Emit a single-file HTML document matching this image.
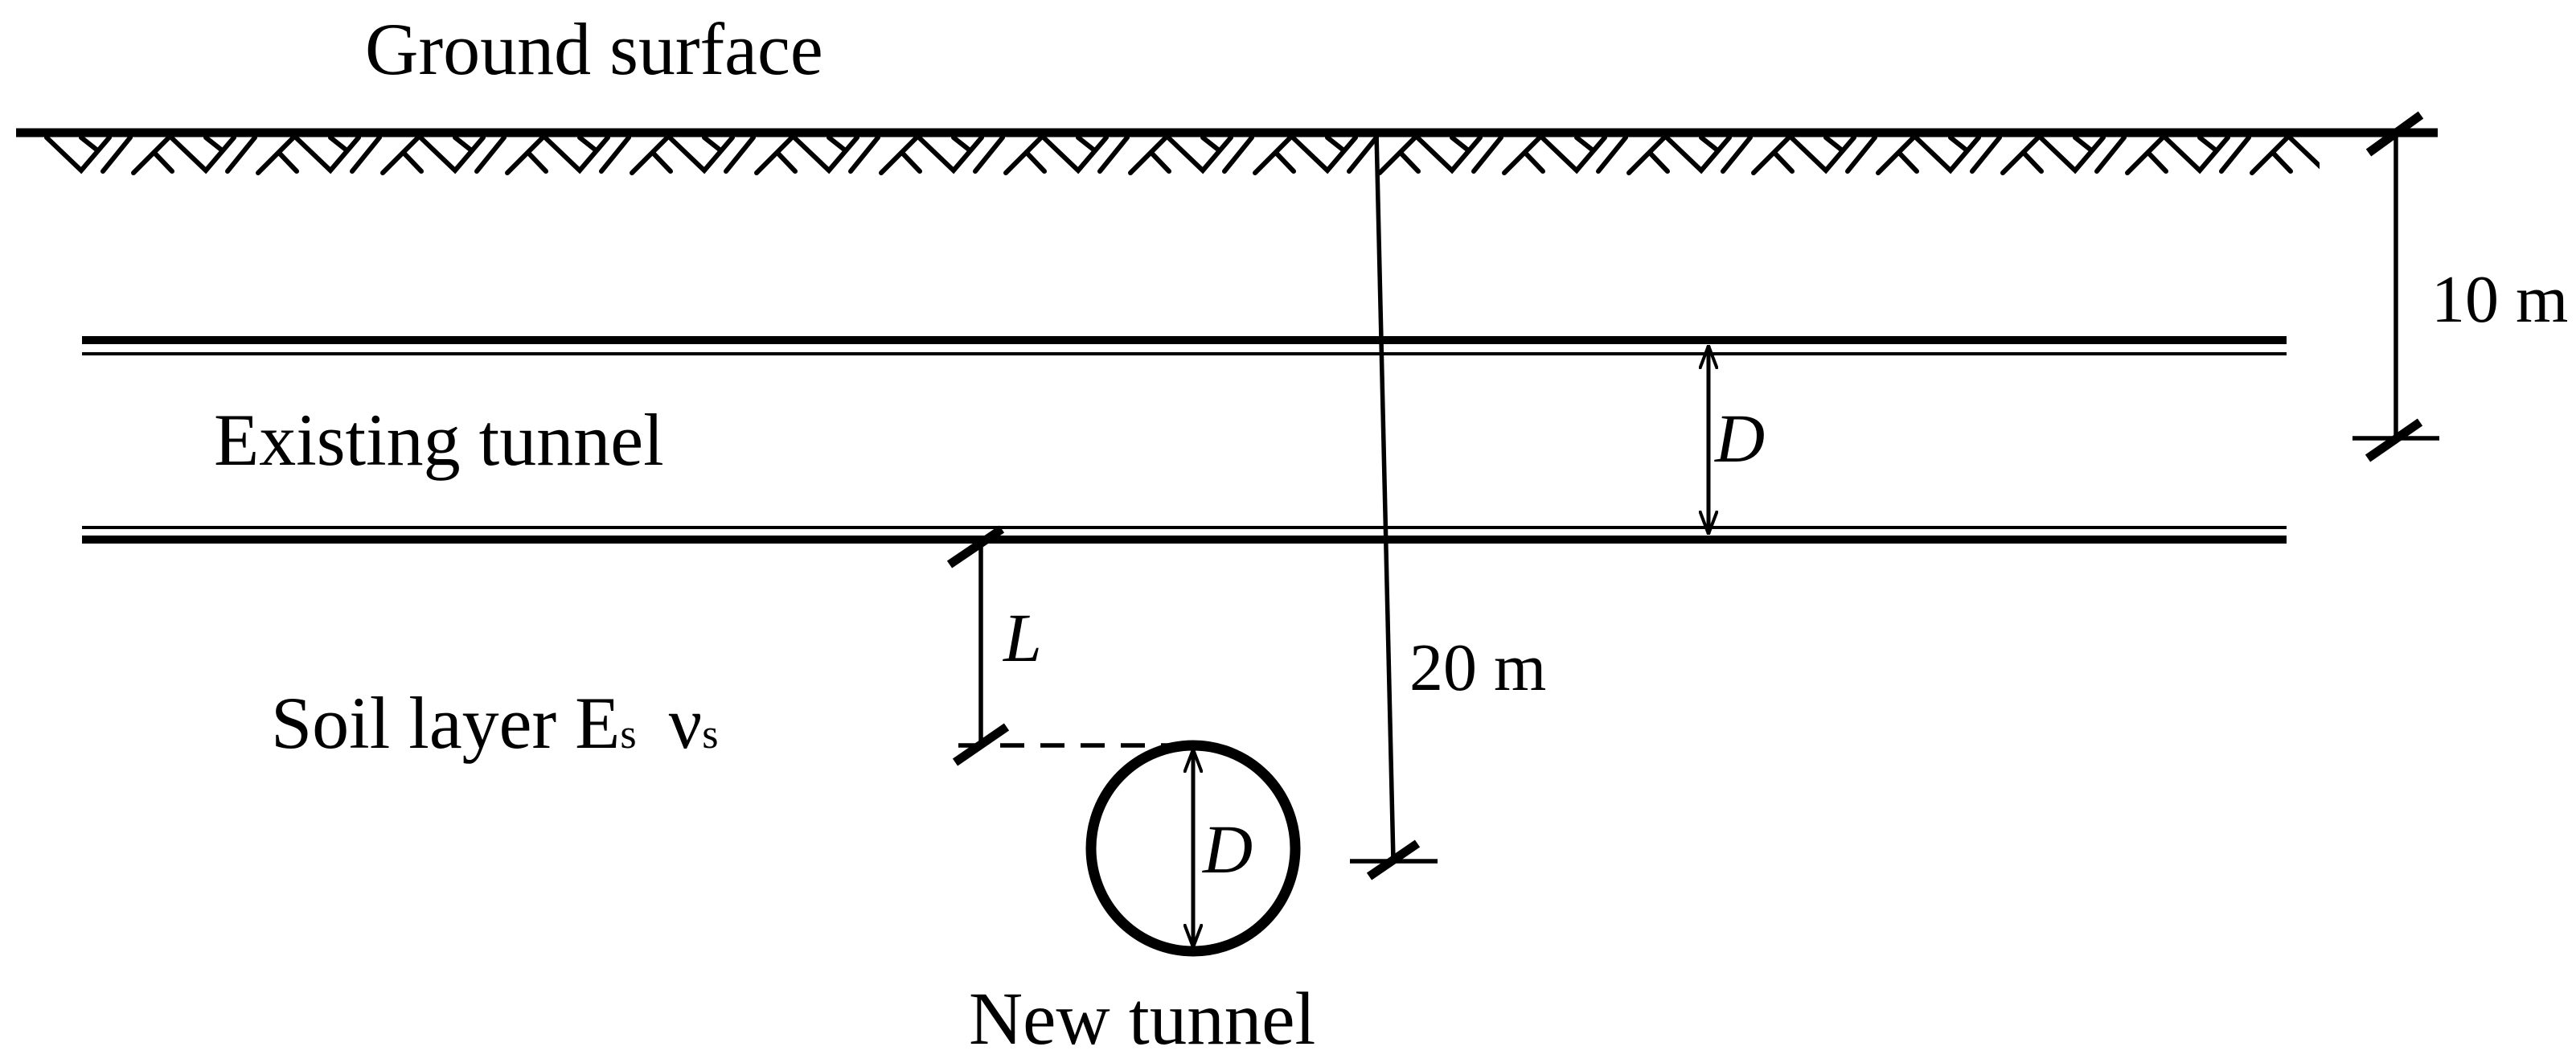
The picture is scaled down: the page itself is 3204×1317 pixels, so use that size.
<!DOCTYPE html>
<html><head><meta charset="utf-8"><style>
html,body{margin:0;padding:0;background:#fff;}
svg{display:block;}
text{font-family:"Liberation Serif",serif;fill:#000;}
</style></head><body>
<svg width="3204" height="1317" viewBox="0 0 3204 1317" xmlns="http://www.w3.org/2000/svg">
<defs>
<marker id="ah" viewBox="0 0 30 24" refX="29" refY="12" markerWidth="30" markerHeight="24" markerUnits="userSpaceOnUse" orient="auto-start-reverse">
<path d="M0,1 L29,12 L0,23" fill="none" stroke="#000" stroke-width="4"/>
</marker>
<g id="m" stroke="#000" stroke-width="6" fill="none" stroke-linecap="round">
<polyline points="0,171 43,212 78,171"/>
<line x1="43" y1="171" x2="62" y2="186"/>
<line x1="104" y1="171" x2="70" y2="213"/>
<line x1="151" y1="172" x2="108" y2="215"/>
<line x1="134" y1="190" x2="156" y2="213"/>
</g>
<clipPath id="hc"><rect x="0" y="160" width="2885" height="70"/></clipPath>
</defs>
<g clip-path="url(#hc)">
<use href="#m" x="58"/><use href="#m" x="213"/><use href="#m" x="368"/><use href="#m" x="523"/>
<use href="#m" x="678"/><use href="#m" x="833"/><use href="#m" x="988"/><use href="#m" x="1143"/>
<use href="#m" x="1298"/><use href="#m" x="1453"/><use href="#m" x="1608"/><use href="#m" x="1763"/>
<use href="#m" x="1918"/><use href="#m" x="2073"/><use href="#m" x="2228"/><use href="#m" x="2383"/>
<use href="#m" x="2538"/><use href="#m" x="2693"/><use href="#m" x="2848"/>
</g>
<!-- ground -->
<line x1="20" y1="165" x2="3032" y2="165" stroke="#000" stroke-width="11"/>
<text x="454" y="92" font-size="92">Ground surface</text>
<!-- existing tunnel -->
<line x1="102" y1="423" x2="2844" y2="423" stroke="#000" stroke-width="10"/>
<line x1="102" y1="440" x2="2844" y2="440" stroke="#000" stroke-width="4"/>
<line x1="102" y1="656" x2="2844" y2="656" stroke="#000" stroke-width="4"/>
<line x1="102" y1="671" x2="2844" y2="671" stroke="#000" stroke-width="10"/>
<text x="266" y="578" font-size="92">Existing tunnel</text>
<line x1="2125" y1="430" x2="2125" y2="664" stroke="#000" stroke-width="5" marker-start="url(#ah)" marker-end="url(#ah)"/>
<text x="2133" y="574" font-size="86" font-style="italic">D</text>
<!-- 10 m -->
<line x1="2980" y1="165" x2="2980" y2="545" stroke="#000" stroke-width="5.5"/>
<line x1="2946" y1="190" x2="3011" y2="143" stroke="#000" stroke-width="11"/>
<line x1="2926" y1="545" x2="3034" y2="545" stroke="#000" stroke-width="5.5"/>
<line x1="2945" y1="570" x2="3010" y2="525" stroke="#000" stroke-width="11"/>
<text x="3024" y="400" font-size="84">10 m</text>
<!-- 20 m -->
<line x1="1712" y1="165" x2="1733" y2="1071" stroke="#000" stroke-width="5.5"/>
<line x1="1679" y1="1071" x2="1788" y2="1071" stroke="#000" stroke-width="5.5"/>
<line x1="1703" y1="1090" x2="1763" y2="1049" stroke="#000" stroke-width="11"/>
<text x="1753" y="858" font-size="84">20 m</text>
<!-- L -->
<line x1="1220" y1="671" x2="1220" y2="927" stroke="#000" stroke-width="5.5"/>
<line x1="1181" y1="702" x2="1246" y2="658" stroke="#000" stroke-width="11"/>
<line x1="1188" y1="948" x2="1252" y2="904" stroke="#000" stroke-width="11"/>
<line x1="1192" y1="927" x2="1220" y2="927" stroke="#000" stroke-width="5.5"/>
<line x1="1244" y1="927" x2="1470" y2="927" stroke="#000" stroke-width="5.5" stroke-dasharray="30,20"/>
<text x="1248" y="822" font-size="86" font-style="italic">L</text>
<!-- new tunnel -->
<ellipse cx="1484" cy="1055" rx="127" ry="128" fill="none" stroke="#000" stroke-width="13"/>
<line x1="1484" y1="932" x2="1484" y2="1178" stroke="#000" stroke-width="5" marker-start="url(#ah)" marker-end="url(#ah)"/>
<text x="1496" y="1085" font-size="86" font-style="italic">D</text>
<text x="1205" y="1298" font-size="93">New tunnel</text>
<!-- soil -->
<text x="337" y="930" font-size="92">Soil layer E<tspan font-size="52">s</tspan><tspan dx="40">ν</tspan><tspan font-size="52">s</tspan></text>
</svg>
</body></html>
